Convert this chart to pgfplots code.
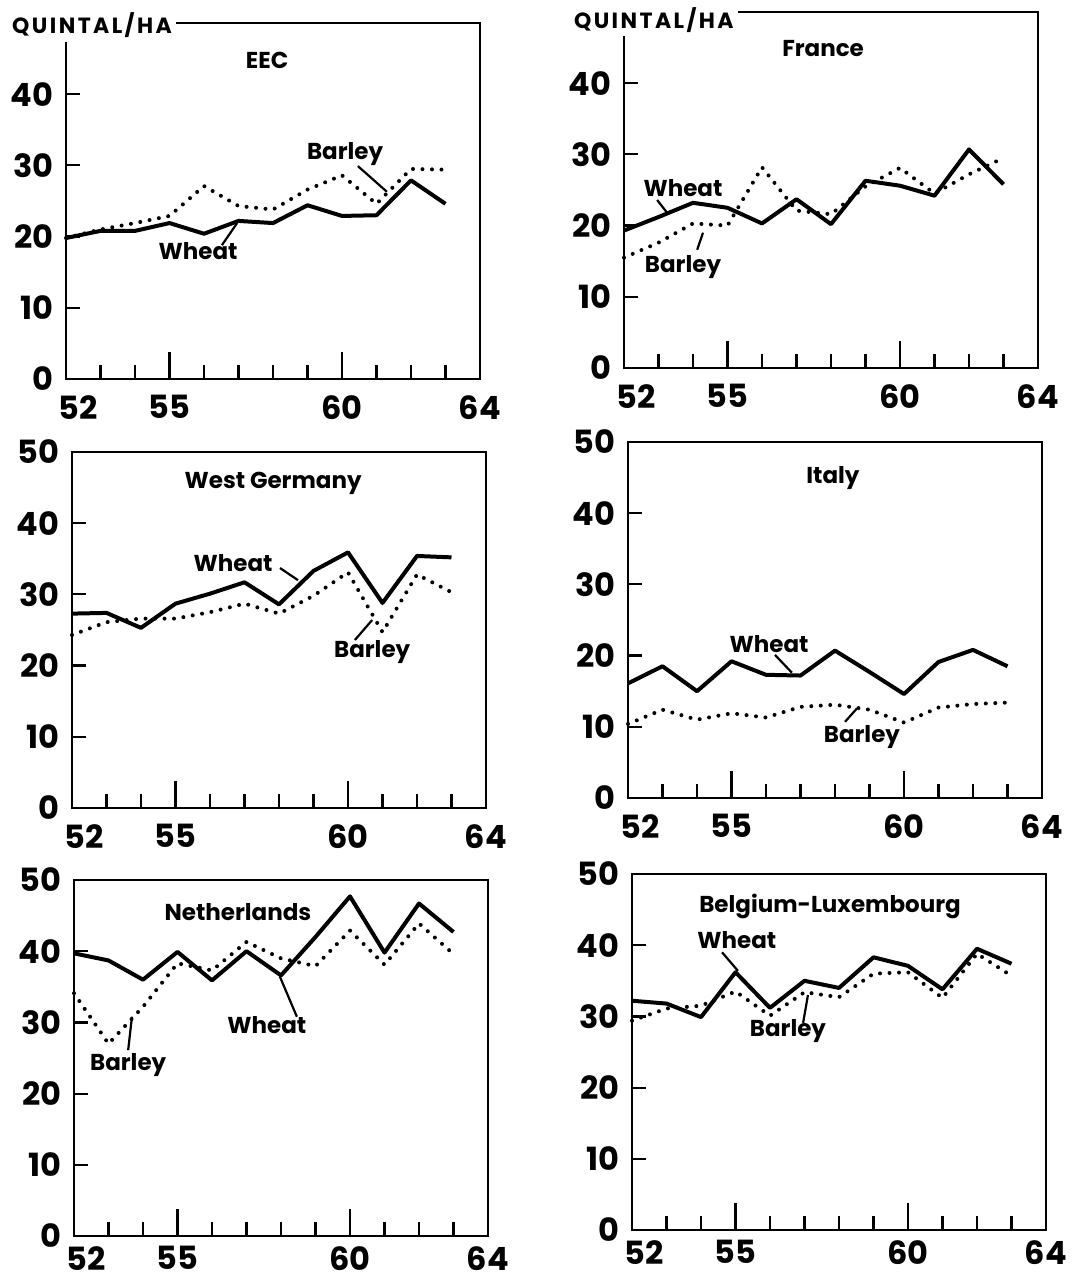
\documentclass[border=0pt]{standalone}
\usepackage{fontspec}
\setmainfont{Poppins}
\usepackage{pgfplots}
\pgfplotsset{compat=1.18}

% yields in quintal per hectare, 1952--1963
\pgfplotsset{
  panel/.style={
    scale only axis, width=414pt, height=356pt,
    xmin=52, xmax=64, ymin=0, ymax=50,
    clip=false,
    axis line style={line width=2.2pt},
    every tick/.style={line width=2.2pt, black},
    tick align=inside, xtick pos=bottom, ytick pos=left,
    major tick length=14pt,
    xtick={53,54,55,56,57,58,59,60,61,62,63}, xticklabels={,,,,,,,,,,},
    extra x ticks={52,55,60,64},
    extra x tick labels={\hspace*{24pt}52,55,60,64},
    extra x tick style={major tick length=27pt},
    ytick={0,10,20,30,40,50}, yticklabels={0,10,20,30,40,50},
    ticklabel style={font=\fontsize{32}{32}\selectfont\bfseries},
    yticklabel style={xshift=-9pt},
    xticklabel style={yshift=-13pt},
  },
  % the bottom row sits close to the lower edge: raise its year labels a little
  bottomrow/.style={xticklabel style={yshift=6pt}},
  quintal/.style={ytick={0,10,20,30,40}, yticklabels={0,10,20,30,40}},
  wheat/.style={black, line width=4pt, line join=round},
  barley/.style={black, line width=4pt, line cap=round, dash pattern=on 0pt off 9.5pt},
}
\tikzset{
  lbl/.style={font=\fontsize{23}{23}\selectfont\bfseries, inner sep=1pt},
  ttl/.style={font=\fontsize{23}{23}\selectfont\bfseries, inner sep=1pt},
  lead/.style={black, line width=2.2pt},
  unitlbl/.style={anchor=west, fill=white, inner sep=4pt, minimum height=30pt},
}
\newcommand{\unit}{\fontsize{22}{22}\selectfont\bfseries\addfontfeature{LetterSpace=11}QUINTAL/HA}

\begin{document}
\begin{tikzpicture}
\path[use as bounding box] (0,0) rectangle (1091pt,1285pt);

% EEC
\begin{axis}[panel, quintal, at={(66pt,906pt)}, anchor=south west]
\addplot[barley] coordinates {(52,19.8)(53,21.0)(54,21.9)(55,22.9)(56,27.1)(57,24.3)(58,23.8)(59,26.6)(60,28.6)(61,24.6)(62,29.5)(63,29.4)};
\addplot[wheat] coordinates {(52,19.8)(53,20.8)(54,20.8)(55,21.9)(56,20.4)(57,22.2)(58,21.9)(59,24.4)(60,22.9)(61,23.0)(62,27.9)(63,24.6)};
\node[ttl] at (axis cs:57.83,44.7) {EEC};
\node[lbl] at (axis cs:60.09,31.6) {Barley};
\draw[lead] (axis cs:60.46,29.9) -- (axis cs:61.30,26.3);
\node[lbl] at (axis cs:55.83,18.0) {Wheat};
\draw[lead] (axis cs:56.52,18.8) -- (axis cs:56.96,21.9);
\node[unitlbl] at (axis cs:50.32,49.7) {\unit};
\end{axis}

% France
\begin{axis}[panel, quintal, at={(624pt,917pt)}, anchor=south west]
\addplot[barley] coordinates {(52,15.5)(53,17.6)(54,20.3)(55,20.0)(56,28.2)(57,22.1)(58,21.6)(59,25.5)(60,28.1)(61,24.5)(62,27.2)(63,29.5)};
\addplot[wheat] coordinates {(52,19.3)(53,21.2)(54,23.2)(55,22.5)(56,20.3)(57,23.7)(58,20.2)(59,26.3)(60,25.6)(61,24.2)(62,30.7)(63,25.8)};
\node[ttl] at (axis cs:57.77,44.8) {France};
\node[lbl] at (axis cs:53.71,25.3) {Wheat};
\draw[lead] (axis cs:52.96,23.6) -- (axis cs:53.25,21.8);
\node[lbl] at (axis cs:53.71,14.2) {Barley};
\draw[lead] (axis cs:54.12,16.6) -- (axis cs:54.29,19.0);
\node[unitlbl] at (axis cs:50.43,48.9) {\unit};
\end{axis}

% West Germany
\begin{axis}[panel, at={(72pt,477pt)}, anchor=south west]
\addplot[barley] coordinates {(52,24.3)(53,26.1)(54,26.6)(55,26.6)(56,27.5)(57,28.7)(58,27.3)(59,29.8)(60,33.1)(61,24.7)(62,32.8)(63,30.3)};
\addplot[wheat] coordinates {(52,27.3)(53,27.4)(54,25.3)(55,28.7)(56,30.1)(57,31.7)(58,28.6)(59,33.3)(60,35.9)(61,28.8)(62,35.4)(63,35.2)};
\node[ttl] at (axis cs:57.83,45.6) {West Germany};
\node[lbl] at (axis cs:56.67,34.4) {Wheat};
\draw[lead] (axis cs:58.03,33.7) -- (axis cs:58.55,32.0);
\node[lbl] at (axis cs:60.70,21.9) {Barley};
\draw[lead] (axis cs:60.20,23.6) -- (axis cs:60.70,26.4);
\end{axis}

% Italy
\begin{axis}[panel, at={(628pt,487pt)}, anchor=south west]
\addplot[barley] coordinates {(52,10.4)(53,12.4)(54,11.0)(55,11.9)(56,11.3)(57,12.8)(58,13.1)(59,12.4)(60,10.6)(61,12.7)(62,13.2)(63,13.4)};
\addplot[wheat] coordinates {(52,16.1)(53,18.5)(54,15.0)(55,19.2)(56,17.3)(57,17.2)(58,20.7)(59,17.7)(60,14.6)(61,19.1)(62,20.8)(63,18.5)};
\node[ttl] at (axis cs:57.94,44.9) {Italy};
\node[lbl] at (axis cs:56.09,21.6) {Wheat};
\draw[lead] (axis cs:56.26,20.1) -- (axis cs:56.75,17.6);
\node[lbl] at (axis cs:58.78,8.6) {Barley};
\draw[lead] (axis cs:58.29,10.7) -- (axis cs:58.64,12.6);
\end{axis}

% Netherlands
\begin{axis}[panel, bottomrow, at={(74pt,49pt)}, anchor=south west]
\addplot[barley] coordinates {(52,34.1)(53,27.0)(54,32.2)(55,38.3)(56,37.3)(57,41.3)(58,39.0)(59,37.9)(60,42.9)(61,38.1)(62,43.9)(63,39.6)};
\addplot[wheat] coordinates {(52,39.7)(53,38.7)(54,36.0)(55,39.9)(56,35.9)(57,40.0)(58,36.6)(59,42.0)(60,47.7)(61,39.8)(62,46.7)(63,42.7)};
\node[ttl] at (axis cs:56.75,45.5) {Netherlands};
\node[lbl] at (axis cs:57.59,29.6) {Wheat};
\draw[lead] (axis cs:58.46,30.8) -- (axis cs:57.97,36.4);
\node[lbl] at (axis cs:53.57,24.0) {Barley};
\draw[lead] (axis cs:53.57,26.1) -- (axis cs:53.68,30.8);
\end{axis}

% Belgium-Luxembourg
\begin{axis}[panel, bottomrow, at={(632pt,55pt)}, anchor=south west]
\addplot[barley] coordinates {(52,29.4)(53,31.1)(54,31.5)(55,33.5)(56,30.1)(57,33.4)(58,32.7)(59,36.0)(60,36.2)(61,32.6)(62,38.8)(63,35.7)};
\addplot[wheat] coordinates {(52,32.2)(53,31.8)(54,29.9)(55,36.2)(56,31.2)(57,35.0)(58,34.0)(59,38.3)(60,37.1)(61,33.8)(62,39.5)(63,37.4)};
\node[ttl] at (axis cs:57.74,45.5) {Belgium-Luxembourg};
\node[lbl] at (axis cs:55.04,40.7) {Wheat};
\draw[lead] (axis cs:54.61,39.0) -- (axis cs:55.07,36.4);
\node[lbl] at (axis cs:56.52,28.0) {Barley};
\draw[lead] (axis cs:56.96,29.1) -- (axis cs:57.10,33.0);
\end{axis}
\end{tikzpicture}
\end{document}
